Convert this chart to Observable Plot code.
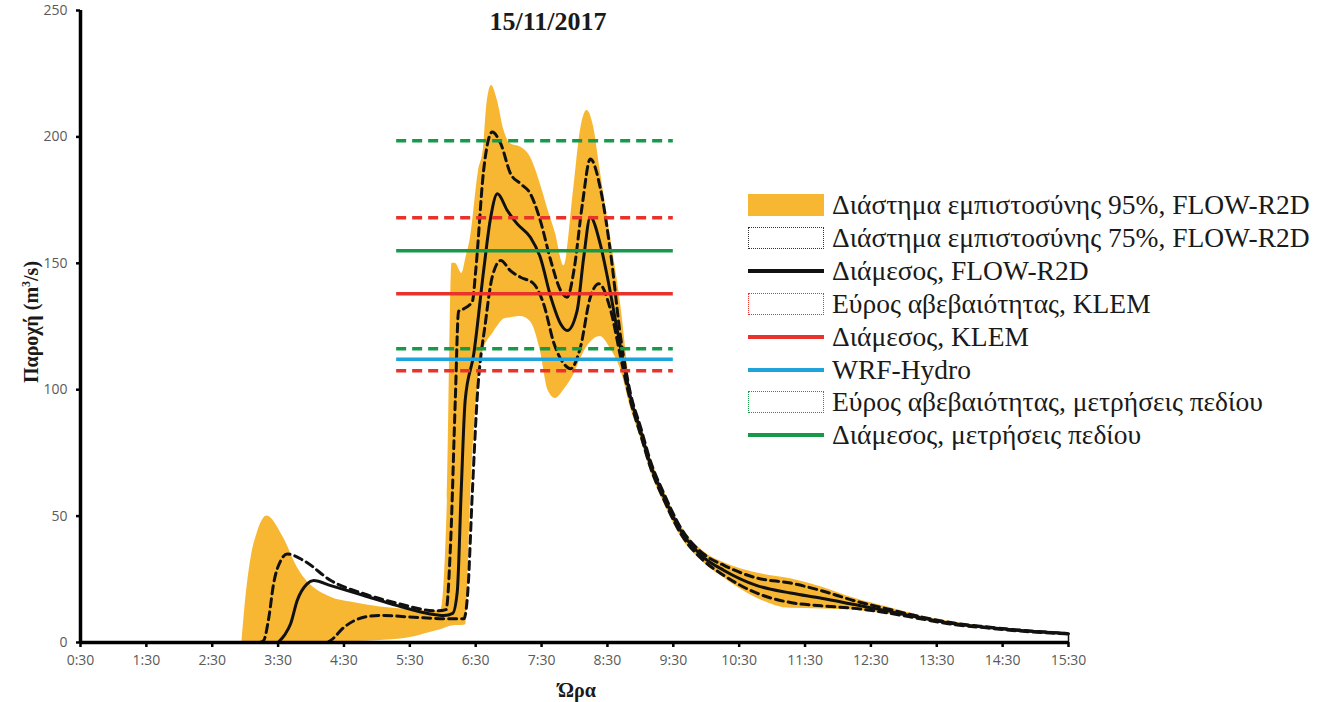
<!DOCTYPE html>
<html><head><meta charset="utf-8">
<script src="https://cdn.jsdelivr.net/npm/d3@7"></script>
<script src="https://cdn.jsdelivr.net/npm/@observablehq/plot@0.6"></script>
<style>
body{margin:0;background:#fff;}
#wrap{position:relative;width:1335px;height:702px;overflow:hidden;}
#wrap svg{position:absolute;left:0;top:0;}
.ov{position:absolute;white-space:nowrap;font-family:"Liberation Serif","DejaVu Serif",serif;color:#1a1a1a;}
.title{font-weight:bold;font-size:26px;transform:translateX(-50%);}
.ylab{font-weight:bold;font-size:20px;transform:translate(-50%,-50%) rotate(-90deg);}
.xlab{font-weight:bold;font-size:20px;transform:translate(-50%,-50%);}
.leg{position:absolute;display:flex;align-items:center;height:32px;font-family:"Liberation Serif",serif;font-size:27.5px;color:#1a1a1a;white-space:nowrap;}
.sym{width:76px;height:22px;box-sizing:border-box;margin-right:8px;display:flex;align-items:center;}
</style></head><body><div id="wrap"></div>
<script>
// ---- axes ----
const xTicks = [0.5,1.5,2.5,3.5,4.5,5.5,6.5,7.5,8.5,9.5,10.5,11.5,12.5,13.5,14.5,15.5];
const xTickLabels = ["0:30","1:30","2:30","3:30","4:30","5:30","6:30","7:30","8:30","9:30","10:30","11:30","12:30","13:30","14:30","15:30"];
const yTicks = [0,50,100,150,200,250];

// ---- FLOW-R2D 95% confidence band (hours, m3/s) ----
const bandTime = [2.95,3.0,3.1,3.18,3.33,3.58,3.79,4.3,4.6,5.05,5.51,5.81,5.97,6.07,6.14,6.19,6.29,6.35,6.42,6.54,6.62,6.67,6.74,6.83,6.93,7.03,7.18,7.33,7.48,7.6,7.71,7.84,7.99,8.09,8.19,8.29,8.39,8.55,8.7,8.85,9.0,9.15,9.36,9.61,9.96,10.27,10.77,11.28,11.75,12.25,12.75,13.25,13.76,14.25,14.77,15.48];
const bandLow  = [0,0,0,0,0,0,0,0,0.3,0.8,2,4,5,6,6.5,6.7,6.7,7,56,103.6,116,119,121.5,125,128,128.5,129,127,115.5,99.7,96.5,100,106,112,117,120,121,116,108,93,81,68,55,42,31.5,25.5,17.5,13.5,13.3,12.8,11.2,9.1,6.9,5.6,4.4,3.3];
const bandHigh = [0,15,35,43,50,41.5,29.8,17.9,16,14,13,12.5,12.7,56,150,150,146,152,160,186,196,213,220.3,214.4,202.5,197.3,196,192,181.5,171,162,149,180,202.5,210.4,204,186.7,160,134,101,87,73.5,60,46.5,36,31.5,27.5,25.2,22,17.5,14,10.6,8,6.4,5,3.7];

// ---- FLOW-R2D 75% confidence limits ----
const upper75Time  = [3.22,3.28,3.36,3.43,3.54,3.64,3.89,4.3,4.8,5.31,5.91,6.05,6.12,6.19,6.24,6.32,6.45,6.5,6.62,6.75,6.88,7.03,7.18,7.33,7.48,7.64,7.79,7.89,7.99,8.12,8.24,8.39,8.55,8.7,8.85,9.0,9.15,9.36,9.61,9.96,10.27,10.77,11.28,11.75,12.25,12.75,13.25,13.76,14.25,14.77,15.48];
const upper75Value = [0,0.8,10,23,32.4,35,32.4,24.5,19.3,15.5,12.5,13,40,95.7,131,132,135,147,186.7,201.9,197.3,185.4,181.5,177.5,167,151,139.2,136.6,147,173.5,191.3,180,153.7,120.8,98.5,85.5,72,58.8,45.5,35,30.5,25.5,23.5,20.5,16.5,13.3,10.2,7.7,6.2,4.9,3.6];
const lower75Time  = [4.25,4.3,4.5,4.8,5.05,5.56,6.07,6.32,6.38,6.45,6.52,6.65,6.75,6.88,7.03,7.18,7.38,7.53,7.69,7.84,7.94,8.09,8.24,8.37,8.55,8.7,8.85,9.0,9.15,9.36,9.61,9.96,10.27,10.77,11.28,11.75,12.25,12.75,13.25,13.76,14.25,14.77,15.48];
const lower75Value = [0,0.8,6,10,10.7,10,9.4,9.4,20,60,95.7,127,144.5,151.1,147,144.5,141.9,134,118.2,110.2,108.3,116.8,136.6,141.9,131.3,112.9,95.5,82.5,69.5,56.3,43.2,32.4,26.5,19.5,15.8,14.5,13.5,11.7,9.4,7.1,5.8,4.5,3.4];

// ---- FLOW-R2D median ----
const medianTime  = [3.5,3.6,3.69,3.79,3.94,4.04,4.3,4.8,5.31,5.81,6.02,6.15,6.22,6.28,6.34,6.47,6.62,6.72,6.83,6.98,7.13,7.33,7.48,7.64,7.79,7.89,8.04,8.14,8.24,8.39,8.5,8.65,8.75,8.85,9.0,9.15,9.36,9.61,9.96,10.27,10.77,11.28,11.75,12.25,12.75,13.25,13.76,14.25,14.77,15.5];
const medianValue = [0,3,7.4,16.6,23.2,24.5,22.5,18.6,14.6,11.3,10.7,11.5,20,60,95.7,114,147,167,177.5,170.9,165.6,160.3,152.4,136.6,126,123.4,131.3,152.4,168.2,157.7,144.5,123.4,110,97,84,70.7,57.5,44.3,33.7,28.5,22.5,19.6,17.5,15,12.5,9.8,7.4,6,4.7,3.5];

// ---- reference values (horizontal lines, 5:18 – 9:30) ----
const refNames  = ["Εύρος αβεβαιότητας, μετρήσεις πεδίου (άνω)","Εύρος αβεβαιότητας, KLEM (άνω)","Διάμεσος, μετρήσεις πεδίου","Διάμεσος, KLEM","Εύρος αβεβαιότητας, μετρήσεις πεδίου (κάτω)","WRF-Hydro","Εύρος αβεβαιότητας, KLEM (κάτω)"];
const refValues = [198.5,168,155,138,116.2,112,107.5];
const refColors = ["#17994a","#e8322b","#17994a","#e8322b","#17994a","#1ea3db","#e8322b"];
const refDashed = [true,true,false,false,true,false,true];
const refStart = 5.3, refEnd = 9.5;

// ---- legend ----
const legendLabels = ["Διάστημα εμπιστοσύνης 95%, FLOW-R2D","Διάστημα εμπιστοσύνης 75%, FLOW-R2D","Διάμεσος, FLOW-R2D","Εύρος αβεβαιότητας, KLEM","Διάμεσος, KLEM","WRF-Hydro","Εύρος αβεβαιότητας, μετρήσεις πεδίου","Διάμεσος, μετρήσεις πεδίου"];
const legendKinds  = ["fill","box","line","box","line","line","box","line"];
const legendColors = ["#f8b733","#333333","#111111","#e8322b","#e8322b","#1ea3db","#17994a","#17994a"];

const ORANGE = "#f8b733";
const band = bandTime.map((t,i)=>({t, lo: bandLow[i], hi: bandHigh[i]}));
const up75 = upper75Time.map((t,i)=>({t, v: upper75Value[i]}));
const lo75 = lower75Time.map((t,i)=>({t, v: lower75Value[i]}));
const med  = medianTime.map((t,i)=>({t, v: medianValue[i]}));
const refs = refValues.map((v,i)=>({name: refNames[i], v, color: refColors[i], dashed: refDashed[i]}));
const lastT = medianTime[medianTime.length-1], lastV = medianValue[medianValue.length-1];

const chart = Plot.plot({
  width: 1335, height: 702,
  marginLeft: 80, marginRight: 267, marginTop: 10, marginBottom: 60,
  style: {fontFamily: "'Open Sans', sans-serif", fontSize: "14px", background: "white"},
  x: {type: "linear", domain: [0.5, 15.5]},
  y: {domain: [0, 250]},
  marks: [
    Plot.areaY(band, {x: "t", y1: "lo", y2: "hi", fill: ORANGE, curve: "monotone-x"}),
    Plot.line(up75, {x: "t", y: "v", stroke: "#111", strokeWidth: 3, strokeDasharray: "8,5", curve: "monotone-x"}),
    Plot.line(lo75, {x: "t", y: "v", stroke: "#111", strokeWidth: 3, strokeDasharray: "8,5", curve: "monotone-x"}),
    Plot.line(med, {x: "t", y: "v", stroke: "#111", strokeWidth: 3, curve: "monotone-x"}),
    Plot.ruleX([lastT], {y1: 0, y2: lastV, stroke: "#111", strokeWidth: 1.5}),
    Plot.ruleY(refs.filter(d=>d.dashed), {y: "v", x1: refStart, x2: refEnd, stroke: "color", strokeWidth: 3.5, strokeDasharray: "10,6"}),
    Plot.ruleY(refs.filter(d=>!d.dashed), {y: "v", x1: refStart, x2: refEnd, stroke: "color", strokeWidth: 3.5}),
    Plot.axisX({ticks: xTicks, tickFormat: d => xTickLabels[xTicks.indexOf(d)], tickSize: 5, tickPadding: 8, label: null, stroke: "black", strokeWidth: 2.5, fill: "#5a5a5a"}),
    Plot.axisY({ticks: yTicks, tickSize: 4, tickPadding: 9, label: null, stroke: "black", strokeWidth: 2.5, fill: "#5a5a5a"}),
    Plot.ruleY([0], {stroke: "black", strokeWidth: 3.5}),
    Plot.ruleX([0.5], {stroke: "black", strokeWidth: 3.5})
  ]
});
const wrap = document.getElementById("wrap");
wrap.appendChild(chart);

function addDiv(cls, html, left, top){
  const d = document.createElement("div");
  d.className = "ov " + cls; d.innerHTML = html;
  d.style.left = left + "px"; d.style.top = top + "px";
  wrap.appendChild(d); return d;
}
addDiv("title", "15/11/2017", 548, 7);
addDiv("ylab", "Παροχή (m<sup style='font-size:0.6em'>3</sup>/s)", 31, 322);
addDiv("xlab", "Ώρα", 577, 690);

legendLabels.forEach((lab,i)=>{
  const row = document.createElement("div");
  row.className = "leg";
  row.style.left = "748px";
  row.style.top = (189 + i*32.9) + "px";
  const sym = document.createElement("div");
  sym.className = "sym";
  const k = legendKinds[i], c = legendColors[i];
  if (k === "fill") { sym.style.background = c; }
  else if (k === "box") { sym.style.border = "1.5px dotted " + c; sym.style.height = "22px"; }
  else { const ln = document.createElement("div"); ln.style.width = "76px"; ln.style.height = "4px"; ln.style.background = c; sym.appendChild(ln); }
  row.appendChild(sym);
  const t = document.createElement("span"); t.textContent = lab; row.appendChild(t);
  wrap.appendChild(row);
});
</script></body></html>
